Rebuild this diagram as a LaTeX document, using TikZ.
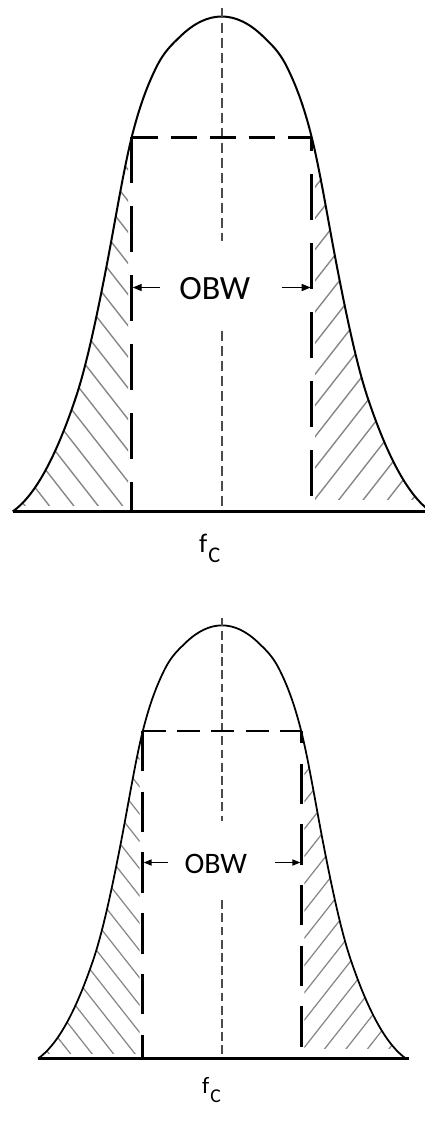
\documentclass[tikz,border=0pt]{standalone}
\usepackage{fontspec}
\setmainfont{Carlito}
\usetikzlibrary{arrows.meta}
\definecolor{hatchgray}{RGB}{135,135,135}
\definecolor{axisgray}{RGB}{75,75,75}

\newcommand\bellcurve{(-209,0) .. controls (-187.9,-14.75) and (-166.9,-51.1) .. (-145.8,-114.3)
  .. controls (-135.43,-145.4) and (-125.07,-193.8) .. (-114.7,-247.7)
  .. controls (-106.47,-290.5) and (-98.23,-341.4) .. (-90,-374.3)
  .. controls (-81.67,-407.6) and (-73.33,-428.3) .. (-65,-445)
  .. controls (-57.23,-460.5) and (-49.47,-467.2) .. (-41.7,-474.8)
  .. controls (-27.8,-488.4) and (-13.9,-495) .. (0,-495)
  .. controls (13.9,-495) and (27.8,-488.4) .. (41.7,-474.8)
  .. controls (49.47,-467.2) and (57.23,-460.5) .. (65,-445)
  .. controls (73.33,-428.3) and (81.67,-407.6) .. (90,-374.3)
  .. controls (98.23,-341.4) and (106.47,-290.5) .. (114.7,-247.7)
  .. controls (125.07,-193.8) and (135.43,-145.4) .. (145.8,-114.3)
  .. controls (166.9,-51.1) and (187.9,-14.75) .. (209,0)}

% #1 prefix, #2 x, #3 y, #4 xscale, #5 yscale
\newcommand\bellfig[5]{%
  \pgfmathsetmacro\fsc{#4}%
  \pgfmathsetmacro\lwCurve{1.0*\fsc}%
  \pgfmathsetmacro\lwBase{1.2*\fsc}%
  \pgfmathsetmacro\lwRect{1.6*\fsc}%
  \pgfmathsetmacro\lwThin{0.7*\fsc}%
  \pgfmathsetmacro\lwAxis{0.85*\fsc}%
  \pgfmathsetmacro\dVon{23*\fsc}%
  \pgfmathsetmacro\dVoff{11.5*\fsc}%
  \pgfmathsetmacro\dVph{16*\fsc}%
  \pgfmathsetmacro\dHon{13*\fsc}%
  \pgfmathsetmacro\dHoff{6.5*\fsc}%
  \pgfmathsetmacro\dCon{5*\fsc}%
  \pgfmathsetmacro\dCoff{2.5*\fsc}%
  \pgfmathsetmacro\aL{4.5*\fsc}%
  \pgfmathsetmacro\aW{3.5*\fsc}%
  \begin{scope}[shift={(#2,#3)},xscale=#4,yscale=#5,transform shape]
    % hatching, left
    \begin{scope}
      \clip (-300,-6) rectangle (-93.5,-600);
      \clip \bellcurve -- cycle;
      \foreach \k in {-5,...,12}
        \draw[hatchgray,line width=\lwThin pt] ({-94.7+24.4*\k},0) -- ++(-384,-491);
    \end{scope}
    % hatching, right
    \begin{scope}
      \clip (93.5,-12) rectangle (300,-600);
      \clip \bellcurve -- cycle;
      \foreach \k in {-13,...,5}
        \draw[hatchgray,line width=\lwThin pt] ({108+24.4*\k},0) -- ++(384,-491);
    \end{scope}
    % named points
    \coordinate (#1b0) at (-209,0);
    \coordinate (#1b1) at (212,0);
    \coordinate (#1tl) at (-90,-374.3);
    \coordinate (#1tr) at (90,-374.3);
    \coordinate (#1bl) at (-90,0);
    \coordinate (#1br) at (90,0);
    \coordinate (#1c0) at (0,-504);
    \coordinate (#1c1) at (0,-271);
    \coordinate (#1c2) at (0,-181);
    \coordinate (#1c3) at (0,0);
    \coordinate (#1sl) at (-61.7,-224);
    \coordinate (#1sr) at (60,-224);
    \coordinate (#1al) at (-89,-224);
    \coordinate (#1ar) at (89,-224);
    % baseline and curve
    \draw[line width=\lwBase pt] (#1b0) -- (#1b1);
    \draw[line width=\lwCurve pt] \bellcurve;
    % centre line
    \draw[axisgray,line width=\lwAxis pt,dash pattern=on \dCon pt off \dCoff pt] (#1c0) -- (#1c1);
    \draw[axisgray,line width=\lwAxis pt,dash pattern=on \dCon pt off \dCoff pt] (#1c2) -- (#1c3);
    % dashed rectangle
    \draw[line width=\lwRect pt,dash pattern=on \dHon pt off \dHoff pt] (#1tl) -- (#1tr);
    \draw[line width=\lwRect pt,dash pattern=on \dHon pt off \dHoff pt] (#1bl) -- (#1br);
    \draw[line width=\lwRect pt,dash pattern=on \dVon pt off \dVoff pt] (#1tl) -- (#1bl);
    \draw[line width=\lwRect pt,dash pattern=on \dVon pt off \dVoff pt,dash phase=\dVph pt] (#1tr) -- (#1br);
    % label and arrows
    \node[inner sep=0pt,font=\fontsize{17}{20}\selectfont] (#1obw) at (-7,-222.5) {OBW};
    \draw[line width=\lwThin pt,-{Triangle[length=\aL pt,width=\aW pt]}] (#1sl) -- (#1al);
    \draw[line width=\lwThin pt,-{Triangle[length=\aL pt,width=\aW pt]}] (#1sr) -- (#1ar);
    \node[inner sep=0pt,anchor=base west,font=\fontsize{13.4}{15}\selectfont] (#1fc) at (-23,40.5) {f\kern0.6pt\raisebox{-5pt}{\fontsize{11.2}{13}\selectfont C}};
  \end{scope}%
}

\begin{document}
\begin{tikzpicture}[x=0.5pt,y=-0.5pt]
  \fill[white] (0,0) rectangle (424,1126);
  \useasboundingbox (0,0) rectangle (424,1126);
  \bellfig{t}{221.7}{511.5}{1}{1}
  \bellfig{b}{222}{1058.5}{0.88}{0.875}
\end{tikzpicture}
\end{document}
